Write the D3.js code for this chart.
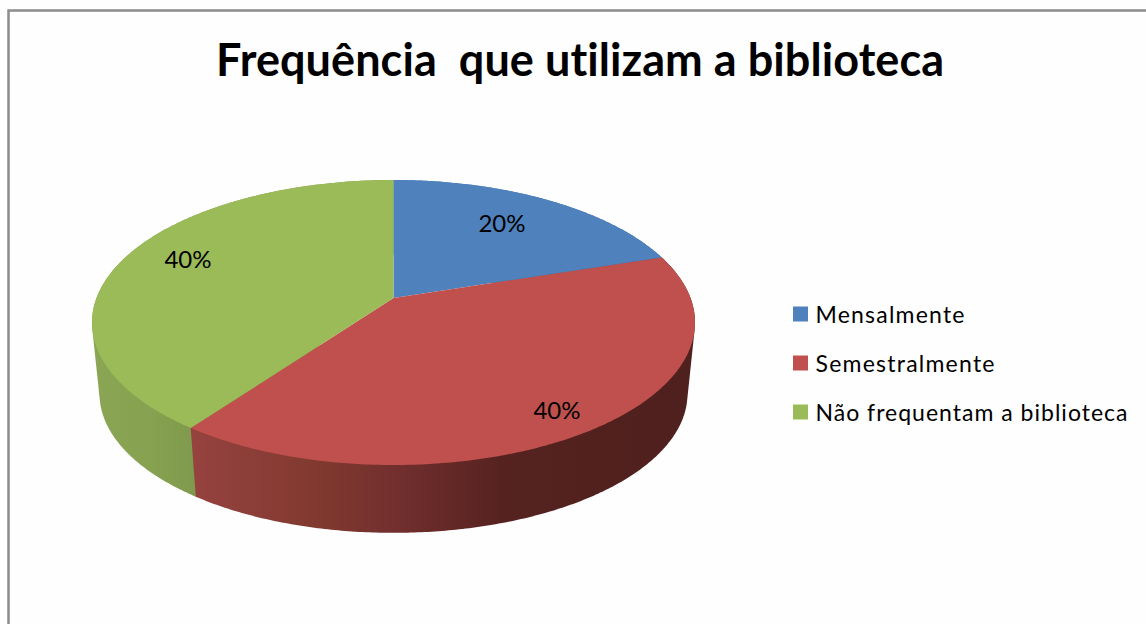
<!DOCTYPE html>
<html>
<head>
<meta charset="utf-8">
<script src="https://cdn.jsdelivr.net/npm/d3@7"></script>
<style>
  html, body { margin: 0; padding: 0; background: #fff; }
  svg { display: block; }
  text { font-family: Lato, "Open Sans", sans-serif; fill: #000; white-space: pre; font-variant-ligatures: none; }
</style>
</head>
<body>
<div id="chart"></div>
<script>
const categories = ["Mensalmente", "Semestralmente", "Não frequentam a biblioteca"];
const values = [20, 40, 40];
const valueLabels = ["20%", "40%", "40%"];
const titleText = "Frequência  que utilizam a biblioteca";

const width = 1146, height = 624;
const topColors = ["#4f81bd", "#c0504d", "#9bbb59"];

const svg = d3.select("#chart").append("svg")
    .attr("width", width)
    .attr("height", height);

// frame
svg.append("rect").attr("width", width).attr("height", height).attr("fill", "#fefefe");
svg.append("path")
    .attr("d", d3.line()([[8.5, height], [8.5, 10.5], [width, 10.5]]))
    .attr("fill", "none")
    .attr("stroke", "#8c8c8c")
    .attr("stroke-width", 2.5);

// title
svg.append("text")
    .attr("x", 216)
    .attr("y", 76)
    .attr("textLength", 728)
    .attr("lengthAdjust", "spacing")
    .style("font-size", "45px")
    .style("font-weight", "bold")
    .text(titleText);

// perspective of the pie: a flat circle projected so that the centre sits
// above the middle of the ellipse, as the spreadsheet's 3D pie does
const cx = 393.5, cyTop = 298, cyBottom = 370;
const rxFlat = 297, ryFlat = 138.3, tilt = -0.172, bottomScale = 0.975;

function project(angle, r, cy, scale) {
    const u = Math.sin(angle) * r, v = -Math.cos(angle) * r;
    const w = 1 + tilt * v;
    return [cx + scale * rxFlat * u / w, cy + scale * ryFlat * v / w];
}

const pieData = d3.pie().sort(null).value(d => d)(values);

function rim(a0, a1, cy, scale) {
    const n = Math.max(2, Math.ceil((a1 - a0) / 0.01));
    return d3.range(n + 1).map(i => project(a0 + (a1 - a0) * i / n, 1, cy, scale));
}

const defs = svg.append("defs");
const wallStops = [
    [["0%", "#4f81bd"], ["100%", "#3a5f8c"]],
    [["0%", "#96423f"], ["25%", "#80392f"], ["40%", "#722f2e"], ["62%", "#55221f"], ["100%", "#4e201e"]],
    [["0%", "#8aa553"], ["55%", "#86a14f"], ["100%", "#7f9a4d"]]
];
const wallRange = [[393, 680], [195, 695], [95, 197]];
pieData.forEach((d, i) => {
    const grad = defs.append("linearGradient")
        .attr("id", "wall" + i)
        .attr("gradientUnits", "userSpaceOnUse")
        .attr("x1", wallRange[i][0]).attr("x2", wallRange[i][1])
        .attr("y1", 0).attr("y2", 0);
    wallStops[i].forEach(s => grad.append("stop").attr("offset", s[0]).attr("stop-color", s[1]));
});

const line = d3.line();

// side walls: hull of both rims keeps the tangent silhouette at the sides.
// drawn last slice first so the red wall trims the green one
svg.selectAll("path.wall")
    .data(pieData.slice().reverse())
    .join("path")
    .attr("class", "wall")
    .attr("fill", d => `url(#wall${d.index})`)
    .attr("d", d => line(d3.polygonHull(rim(d.startAngle, d.endAngle, cyTop, 1)
        .concat(rim(d.startAngle, d.endAngle, cyBottom, bottomScale)))) + "Z");

// top faces
svg.selectAll("path.slice")
    .data(pieData)
    .join("path")
    .attr("class", "slice")
    .attr("fill", (d, i) => topColors[i])
    .attr("d", d => line([[cx, cyTop]].concat(rim(d.startAngle, d.endAngle, cyTop, 1))) + "Z");

// value labels
const labelPos = [[502, 224], [557, 411], [188, 260]];
svg.selectAll("text.value")
    .data(valueLabels)
    .join("text")
    .attr("class", "value")
    .attr("x", (d, i) => labelPos[i][0])
    .attr("y", (d, i) => labelPos[i][1])
    .attr("dy", "0.35em")
    .attr("text-anchor", "middle")
    .style("font-size", "24px")
    .text(d => d);

// legend
const legendY = d3.scalePoint().domain(categories).range([314, 412]);
const legendWidths = [149, 179, 312];
const legend = svg.selectAll("g.legend")
    .data(categories)
    .join("g")
    .attr("class", "legend")
    .attr("transform", d => `translate(793, ${legendY(d)})`);
legend.append("rect")
    .attr("x", 0).attr("y", -7.5)
    .attr("width", 15).attr("height", 15)
    .attr("fill", (d, i) => topColors[i]);
legend.append("text")
    .attr("x", 22.5)
    .attr("y", 9)
    .attr("textLength", (d, i) => legendWidths[i])
    .attr("lengthAdjust", "spacing")
    .style("font-size", "23px")
    .text(d => d);
</script>
</body>
</html>
